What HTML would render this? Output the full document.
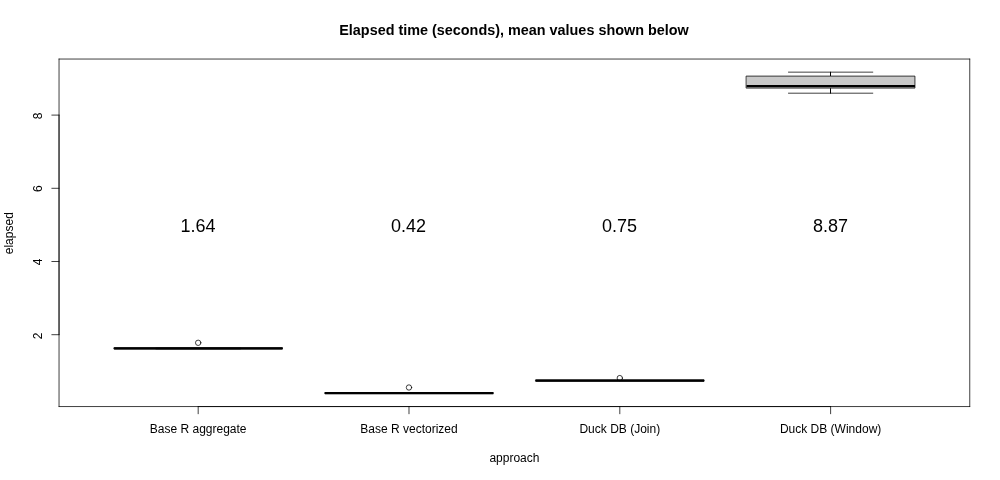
<!DOCTYPE html>
<html lang="en">
<head>
<meta charset="utf-8">
<title>Elapsed time (seconds), mean values shown below</title>
<style>
  html, body { margin: 0; padding: 0; background: #ffffff; }
  body { width: 1000px; height: 480px; overflow: hidden; }
  svg { display: block; }
  text { font-family: "Liberation Sans", Arial, Helvetica, sans-serif; fill: #000; }
  .t12 { font-size: 12px; }
  .t18 { font-size: 18px; }
  .title { font-size: 14.4px; font-weight: bold; }
  .ln { stroke: #000; stroke-width: 0.75; fill: none; stroke-linecap: round; stroke-linejoin: round; }
  .med { stroke: #000; stroke-width: 2.25; fill: none; stroke-linecap: butt; }
</style>
</head>
<body>
<svg width="1000" height="480" viewBox="0 0 1000 480">
  <rect x="0" y="0" width="1000" height="480" fill="#ffffff"/>

  <!-- title -->
  <text class="title" x="514.0" y="34.8" text-anchor="middle">Elapsed time (seconds), mean values shown below</text>

  <!-- box 1: Base R aggregate -->
  <g>
    <line class="ln" x1="156.02" y1="348.0" x2="240.34" y2="348.0"/>
    <line class="ln" x1="156.02" y1="348.9" x2="240.34" y2="348.9"/>
    <path class="ln" d="M114.25 347.70 L282.50 347.70 L282.50 349.00 L114.25 349.00 Z" style="fill:#c9c9c9"/>
    <line class="med" x1="114.10" y1="348.35" x2="282.50" y2="348.35"/>
    <circle class="ln" cx="198.18" cy="342.8" r="2.7"/>
  </g>

  <!-- box 2: Base R vectorized -->
  <g>
    <path class="ln" d="M325.05 392.60 L493.31 392.60 L493.31 393.60 L325.05 393.60 Z" style="fill:#c9c9c9"/>
    <line class="med" x1="324.90" y1="393.1" x2="493.31" y2="393.1"/>
    <circle class="ln" cx="408.99" cy="387.5" r="2.7"/>
  </g>

  <!-- box 3: Duck DB (Join) -->
  <g>
    <path class="ln" d="M535.85 379.90 L704.12 379.90 L704.12 381.20 L535.85 381.20 Z" style="fill:#c9c9c9"/>
    <line class="med" x1="535.70" y1="380.55" x2="704.12" y2="380.55"/>
    <circle class="ln" cx="619.80" cy="378.1" r="2.7"/>
  </g>

  <!-- box 4: Duck DB (Window) -->
  <g>
    <line class="ln" x1="830.5" y1="72.2" x2="830.5" y2="75.6" style="stroke-width:1"/>
    <line class="ln" x1="830.5" y1="93.2" x2="830.5" y2="88.6" style="stroke-width:1"/>
    <line class="ln" x1="788.46" y1="72.15" x2="872.78" y2="72.15"/>
    <line class="ln" x1="788.46" y1="93.2" x2="872.78" y2="93.2"/>
    <path class="ln" d="M746.50 76.10 L914.94 76.10 L914.94 88.10 L746.50 88.10 Z" style="fill:#c9c9c9"/>
    <line class="med" x1="746.50" y1="86.0" x2="914.94" y2="86.0"/>
  </g>

  <!-- x axis -->
  <line class="ln" x1="198.18" y1="406.56" x2="830.62" y2="406.56"/>
  <line class="ln" x1="198.18" y1="406.56" x2="198.18" y2="413.76"/>
  <line class="ln" x1="408.99" y1="406.56" x2="408.99" y2="413.76"/>
  <line class="ln" x1="619.80" y1="406.56" x2="619.80" y2="413.76"/>
  <line class="ln" x1="830.62" y1="406.56" x2="830.62" y2="413.76"/>
  <text class="t12" x="198.18" y="432.6" text-anchor="middle">Base R aggregate</text>
  <text class="t12" x="408.99" y="432.6" text-anchor="middle">Base R vectorized</text>
  <text class="t12" x="619.80" y="432.6" text-anchor="middle">Duck DB (Join)</text>
  <text class="t12" x="830.62" y="432.6" text-anchor="middle">Duck DB (Window)</text>

  <!-- y axis -->
  <line class="ln" x1="59.04" y1="334.7" x2="59.04" y2="115.1"/>
  <line class="ln" x1="59.04" y1="334.7" x2="51.84" y2="334.7"/>
  <line class="ln" x1="59.04" y1="261.5" x2="51.84" y2="261.5"/>
  <line class="ln" x1="59.04" y1="188.3" x2="51.84" y2="188.3"/>
  <line class="ln" x1="59.04" y1="115.1" x2="51.84" y2="115.1"/>
  <text class="t12" transform="translate(41.76,335.9) rotate(-90)" text-anchor="middle">2</text>
  <text class="t12" transform="translate(41.76,261.9) rotate(-90)" text-anchor="middle">4</text>
  <text class="t12" transform="translate(41.76,188.7) rotate(-90)" text-anchor="middle">6</text>
  <text class="t12" transform="translate(41.76,115.8) rotate(-90)" text-anchor="middle">8</text>

  <!-- axis titles -->
  <text class="t12" x="514.4" y="462.0" text-anchor="middle">approach</text>
  <text class="t12" transform="translate(12.96,233.2) rotate(-90)" text-anchor="middle">elapsed</text>

  <!-- plot frame -->
  <line class="ln" x1="59.04" y1="406.56" x2="969.76" y2="406.56"/>
  <line class="ln" x1="969.76" y1="406.56" x2="969.76" y2="59.04"/>
  <line class="ln" x1="969.76" y1="59.04" x2="59.04" y2="59.04"/>
  <line class="ln" x1="59.04" y1="59.04" x2="59.04" y2="406.56"/>

  <!-- mean values -->
  <text class="t18" x="197.9" y="232.1" text-anchor="middle">1.64</text>
  <text class="t18" x="408.4" y="232.1" text-anchor="middle">0.42</text>
  <text class="t18" x="619.5" y="232.1" text-anchor="middle">0.75</text>
  <text class="t18" x="830.62" y="232.1" text-anchor="middle">8.87</text>
</svg>
</body>
</html>
